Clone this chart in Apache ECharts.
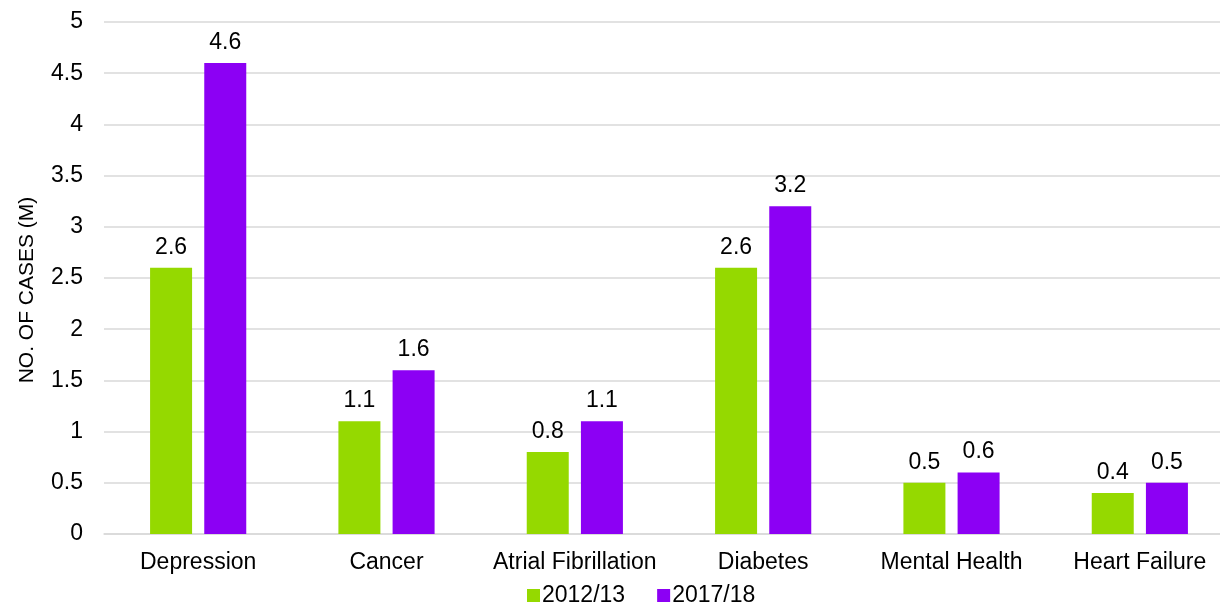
<!DOCTYPE html>
<html>
<head>
<meta charset="utf-8">
<script src="https://cdn.jsdelivr.net/npm/echarts@6/dist/echarts.min.js"></script>
<style>
  html, body { margin: 0; padding: 0; background: #fff; }
  #chart { width: 1220px; height: 608px; }
</style>
</head>
<body>
<div id="chart"></div>
<script>
// chart data
const categories = ["Depression", "Cancer", "Atrial Fibrillation", "Diabetes", "Mental Health", "Heart Failure"];
const cases2012 = [2.6, 1.1, 0.8, 2.6, 0.5, 0.4];
const cases2017 = [4.6, 1.6, 1.1, 3.2, 0.6, 0.5];
const seriesNames = ["2012/13", "2017/18"];

const chart = echarts.init(document.getElementById("chart"));
const font = "Liberation Sans, Arial, sans-serif";

const labelStyle = {
  show: true,
  position: "top",
  distance: 9,
  color: "#000",
  fontSize: 23,
  fontFamily: font,
};

const option = {
  animation: false,
  textStyle: { fontFamily: font },
  // the plot runs a little past the right edge of the picture
  grid: { left: 104, width: 1130, top: 22, bottom: 74, containLabel: false, outerBoundsMode: "none" },
  legend: {
    data: seriesNames,
    top: 584,
    left: 527,
    padding: 0,
    itemWidth: 13,
    itemHeight: 13,
    itemGap: 32,
    icon: "rect",
    textStyle: { fontSize: 23, color: "#000", fontFamily: font, padding: [0, 0, 0, -3] },
  },
  xAxis: {
    type: "category",
    data: categories,
    axisLine: { lineStyle: { color: "#d9d9d9", width: 1.5 } },
    axisTick: { show: false },
    axisLabel: { color: "#000", fontSize: 23, fontFamily: font, margin: 17, interval: 0, hideOverlap: false },
  },
  yAxis: {
    type: "value",
    min: 0,
    max: 5,
    interval: 0.5,
    name: "NO. OF CASES (M)",
    nameLocation: "middle",
    nameGap: 66,
    nameTextStyle: { color: "#000", fontSize: 21, fontFamily: font, padding: [0, 0, 0, -24] },
    axisLine: { show: false },
    axisTick: { show: false },
    axisLabel: { color: "#000", fontSize: 23, fontFamily: font, margin: 21 },
    splitLine: { lineStyle: { color: "#d9d9d9", width: 1.5 } },
  },
  series: [
    {
      name: seriesNames[0],
      type: "bar",
      data: cases2012,
      barWidth: 42,
      barGap: "29%",
      itemStyle: { color: "#95d900" },
      label: labelStyle,
    },
    {
      name: seriesNames[1],
      type: "bar",
      data: cases2017,
      barWidth: 42,
      barGap: "29%",
      itemStyle: { color: "#8c00f4" },
      label: labelStyle,
    },
  ],
};

chart.setOption(option);
</script>
</body>
</html>
